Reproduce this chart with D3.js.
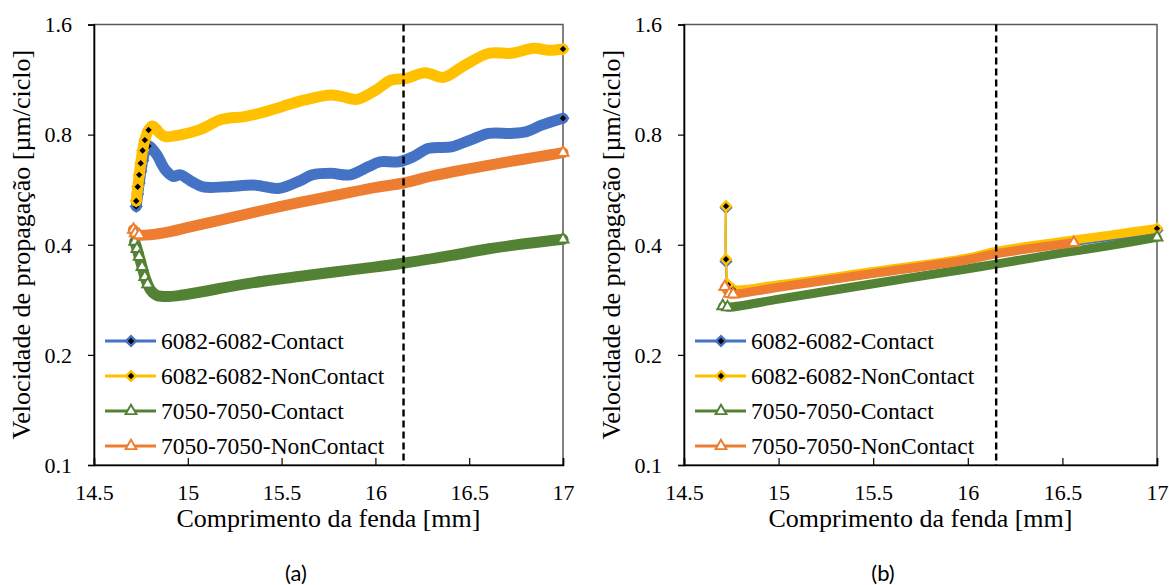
<!DOCTYPE html>
<html>
<head>
<meta charset="utf-8">
<script src="https://cdn.jsdelivr.net/npm/d3@7"></script>
<style>
  body { margin: 0; background: #fff; }
  svg { display: block; }
</style>
</head>
<body>
<div id="chart"></div>
<script>
// axis ticks
const xTicks = [14.5, 15, 15.5, 16, 16.5, 17];
const yTicks = [0.1, 0.2, 0.4, 0.8, 1.6];
const crackLimit = 16.15;   // dashed line position

const seriesNames = ["6082-6082-Contact", "6082-6082-NonContact", "7050-7050-Contact", "7050-7050-NonContact"];

// ---- panel (a) ----
const a_6082_contact_x = [14.725, 14.733, 14.741, 14.75, 14.76, 14.772, 14.79, 14.801, 14.821, 14.841, 14.861, 14.881, 14.921, 14.961, 15.021, 15.081, 15.202, 15.362, 15.482, 15.603, 15.663, 15.763, 15.863, 15.963, 16.024, 16.124, 16.204, 16.284, 16.405, 16.505, 16.605, 16.725, 16.806, 16.886, 17.0];
const a_6082_contact_y = [0.509, 0.55, 0.59, 0.635, 0.68, 0.72, 0.745, 0.741, 0.72, 0.697, 0.665, 0.64, 0.615, 0.621, 0.595, 0.576, 0.576, 0.582, 0.570, 0.600, 0.621, 0.627, 0.621, 0.654, 0.674, 0.674, 0.697, 0.734, 0.741, 0.773, 0.806, 0.806, 0.815, 0.849, 0.887];

const a_6082_noncontact_x = [14.725, 14.733, 14.741, 14.749, 14.759, 14.771, 14.791, 14.811, 14.831, 14.851, 14.881, 14.961, 15.061, 15.182, 15.302, 15.382, 15.502, 15.623, 15.763, 15.823, 15.903, 16.004, 16.084, 16.164, 16.264, 16.364, 16.464, 16.605, 16.725, 16.846, 16.926, 17.0];
const a_6082_noncontact_y = [0.527, 0.576, 0.621, 0.668, 0.724, 0.773, 0.824, 0.845, 0.83, 0.807, 0.79, 0.799, 0.824, 0.881, 0.896, 0.915, 0.954, 0.995, 1.027, 1.016, 0.999, 1.06, 1.128, 1.14, 1.181, 1.147, 1.227, 1.335, 1.335, 1.378, 1.36, 1.371];

const a_7050_contact_x = [14.717, 14.729, 14.741, 14.756, 14.771, 14.786, 14.801, 14.82, 14.841, 14.9, 14.961, 15.1, 15.202, 15.402, 15.603, 15.803, 16.004, 16.15, 16.405, 16.605, 16.806, 17.0];
const a_7050_contact_y = [0.408, 0.39, 0.371, 0.348, 0.327, 0.312, 0.301, 0.294, 0.29, 0.289, 0.291, 0.299, 0.306, 0.318, 0.328, 0.338, 0.348, 0.356, 0.374, 0.39, 0.403, 0.414];

const a_7050_noncontact_x = [14.71, 14.72, 14.741, 14.8, 14.9, 15.001, 15.202, 15.402, 15.603, 15.803, 16.004, 16.15, 16.304, 16.505, 16.705, 16.85, 17.0];
const a_7050_noncontact_y = [0.44, 0.43, 0.425, 0.426, 0.434, 0.446, 0.471, 0.497, 0.523, 0.548, 0.574, 0.59, 0.617, 0.646, 0.674, 0.693, 0.714];

// ---- panel (b) ----
const b_6082_contact_x = [14.722, 14.722, 14.735, 14.76, 15.0, 15.5, 16.0, 16.15, 16.56, 16.75, 17.0];
const b_6082_contact_y = [0.505, 0.36, 0.306, 0.299, 0.308, 0.335, 0.365, 0.380, 0.408, 0.421, 0.438];

const b_6082_noncontact_x = [14.722, 14.722, 14.735, 14.76, 15.0, 15.5, 16.0, 16.15, 16.56, 16.75, 17.0];
const b_6082_noncontact_y = [0.51, 0.365, 0.31, 0.302, 0.311, 0.338, 0.368, 0.384, 0.412, 0.425, 0.443];

const b_7050_contact_x = [14.705, 14.73, 15.0, 15.5, 16.0, 16.15, 16.5, 16.75, 17.0];
const b_7050_contact_y = [0.272, 0.27, 0.284, 0.313, 0.344, 0.354, 0.38, 0.398, 0.419];

const b_7050_noncontact_x = [14.716, 14.74, 14.76, 15.0, 15.5, 16.0, 16.15, 16.56];
const b_7050_noncontact_y = [0.307, 0.294, 0.293, 0.306, 0.334, 0.364, 0.378, 0.405];

// styling per series
const colors = ["#4472C4", "#FFC000", "#548235", "#ED7D31"];
const markerKind = ["diamond", "diamond", "triangle", "triangle"];

const panels = [
  { label: "(a)", left: 94, right: 563, band: 11,
    xs: [a_6082_contact_x, a_6082_noncontact_x, a_7050_contact_x, a_7050_noncontact_x],
    ys: [a_6082_contact_y, a_6082_noncontact_y, a_7050_contact_y, a_7050_noncontact_y],
    bandFrom: [0, 0, 0, 0] },
  { label: "(b)", left: 684, right: 1157, band: 9,
    xs: [b_6082_contact_x, b_6082_noncontact_x, b_7050_contact_x, b_7050_noncontact_x],
    ys: [b_6082_contact_y, b_6082_noncontact_y, b_7050_contact_y, b_7050_noncontact_y],
    bandFrom: [2, 2, 0, 0] }
];

const width = 1169, height = 585;
const plotTop = 24.5, plotBottom = 465;
const serif = "'Liberation Serif', 'Times New Roman', serif";

const svg = d3.select("#chart").append("svg")
  .attr("width", width)
  .attr("height", height);

const diamond = d3.symbol(d3.symbolSquare, 48);
const triangle = d3.symbol(d3.symbolTriangle, 52);

function drawMarker(g, kind, color, x, y) {
  if (kind === "diamond") {
    g.append("path")
      .attr("d", diamond())
      .attr("transform", `translate(${x},${y}) rotate(45)`)
      .attr("fill", "#000")
      .attr("stroke", color)
      .attr("stroke-width", 2.4);
  } else {
    g.append("path")
      .attr("d", triangle())
      .attr("transform", `translate(${x},${y})`)
      .attr("fill", "#fff")
      .attr("stroke", color)
      .attr("stroke-width", 1.9);
  }
}

function drawPanel(p) {
  const x = d3.scaleLinear().domain([14.5, 17]).range([p.left, p.right]);
  const y = d3.scaleLog().base(2).domain([0.1, 1.6]).range([plotBottom, plotTop]);
  const g = svg.append("g");

  // frame
  g.append("rect")
    .attr("x", p.left).attr("y", plotTop)
    .attr("width", p.right - p.left).attr("height", plotBottom - plotTop)
    .attr("fill", "none").attr("stroke", "#595959").attr("stroke-width", 1.5);

  // x axis: ticks inside
  const xAxis = g.append("g")
    .attr("transform", `translate(0,${plotBottom})`)
    .attr("font-family", serif)
    .call(d3.axisBottom(x).tickValues(xTicks).tickSize(-7).tickFormat(d3.format("")));
  xAxis.select(".domain").attr("stroke", "#000").attr("stroke-width", 1.6);
  xAxis.selectAll(".tick line").attr("stroke", "#000").attr("stroke-width", 1.2);
  xAxis.selectAll(".tick text")
    .attr("y", 35).attr("dy", 0)
    .style("font-family", serif).style("font-size", "22px").attr("fill", "#000");

  // y axis: ticks outside
  const yAxis = g.append("g")
    .attr("transform", `translate(${p.left},0)`)
    .attr("font-family", serif)
    .call(d3.axisLeft(y).tickValues(yTicks).tickSize(6).tickPadding(16).tickFormat(d3.format("")));
  yAxis.select(".domain").attr("stroke", "#000").attr("stroke-width", 1.6);
  yAxis.selectAll(".tick line").attr("stroke", "#000").attr("stroke-width", 1.2);
  yAxis.selectAll(".tick text")
    .attr("dy", "0.33em")
    .style("font-family", serif).style("font-size", "22px").attr("fill", "#000");

  // axis titles
  g.append("text")
    .attr("x", (p.left + p.right) / 2).attr("y", 527)
    .attr("text-anchor", "middle")
    .style("font-family", serif).style("font-size", "26px")
    .text("Comprimento da fenda [mm]");

  g.append("text")
    .attr("transform", `translate(${p.left - 64},${(plotTop + plotBottom) / 2}) rotate(-90)`)
    .attr("text-anchor", "middle")
    .style("font-family", serif).style("font-size", "26px")
    .text("Velocidade de propagação [µm/ciclo]");

  // series
  const line = d3.line()
    .x(d => x(d[0]))
    .y(d => y(d[1]))
    .curve(d3.curveCatmullRom.alpha(0.5));

  p.xs.forEach((xs, i) => {
    const pts = xs.map((v, k) => [v, p.ys[i][k]]);
    const sg = g.append("g");
    sg.append("path")
      .attr("d", line(pts.slice(p.bandFrom[i])))
      .attr("fill", "none")
      .attr("stroke", colors[i])
      .attr("stroke-width", p.band)
      .attr("stroke-linejoin", "round")
      .attr("stroke-linecap", "round");
    sg.append("path")
      .attr("d", line(pts))
      .attr("fill", "none")
      .attr("stroke", colors[i])
      .attr("stroke-width", 2.25);
    pts.forEach((d, k) => {
      if (d[0] < 14.8 || k === pts.length - 1) {
        drawMarker(sg, markerKind[i], colors[i], x(d[0]), y(d[1]));
      }
    });
  });

  // dashed marker line
  g.append("line")
    .attr("x1", x(crackLimit)).attr("x2", x(crackLimit))
    .attr("y1", plotTop).attr("y2", plotBottom)
    .attr("stroke", "#000").attr("stroke-width", 2.4)
    .attr("stroke-dasharray", "7,4");

  // legend
  const lg = g.append("g");
  seriesNames.forEach((name, i) => {
    const cy = 341 + i * 35;
    lg.append("line")
      .attr("x1", p.left + 11).attr("x2", p.left + 62)
      .attr("y1", cy).attr("y2", cy)
      .attr("stroke", colors[i]).attr("stroke-width", 3);
    drawMarker(lg, markerKind[i], colors[i], p.left + 37, cy);
    lg.append("text")
      .attr("x", p.left + 67).attr("y", cy + 7.5)
      .style("font-family", serif).style("font-size", "23.5px")
      .text(name);
  });

  // panel label
  g.append("text")
    .attr("x", p.label === "(a)" ? 296 : 883).attr("y", 581)
    .attr("text-anchor", "middle")
    .style("font-family", "Lato, 'Open Sans', sans-serif").style("font-size", "22px")
    .text(p.label);
}

panels.forEach(drawPanel);
</script>
</body>
</html>
